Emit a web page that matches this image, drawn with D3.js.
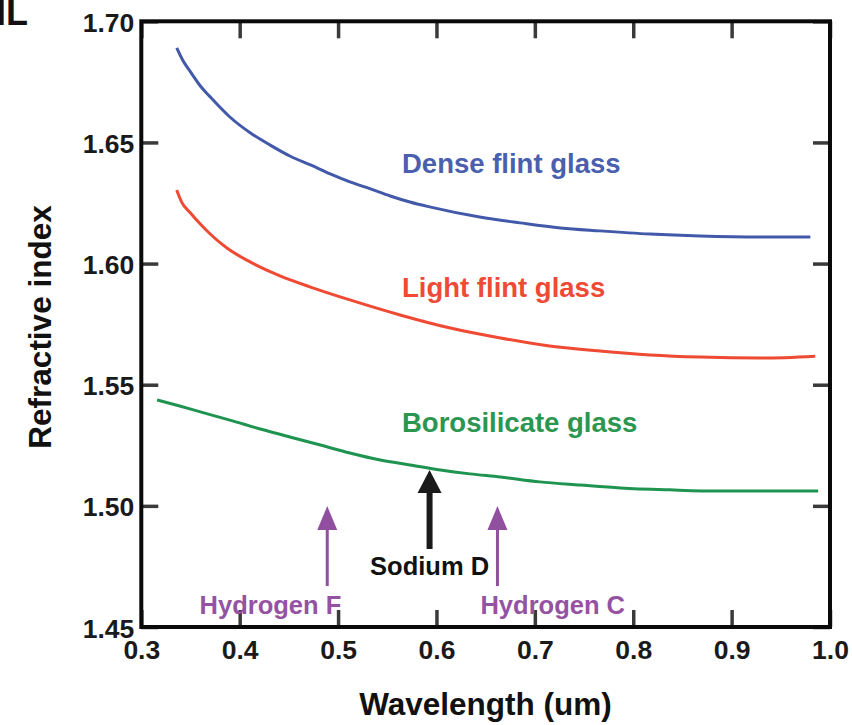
<!DOCTYPE html>
<html>
<head>
<meta charset="utf-8">
<script src="https://cdn.jsdelivr.net/npm/d3@7"></script>
<style>
  html, body { margin: 0; padding: 0; background: #fff; }
  svg { display: block; font-family: "Liberation Sans", Arial, Helvetica, sans-serif; }
</style>
</head>
<body>
<svg id="chart" width="852" height="725"></svg>
<script>
// Axis ticks
const wavelengthTicks = [0.3, 0.4, 0.5, 0.6, 0.7, 0.8, 0.9, 1.0];
const indexTicks = [1.45, 1.50, 1.55, 1.60, 1.65, 1.70];

// Dispersion curves: [wavelength (um), refractive index]
const denseFlint = [
  [0.336, 1.6890], [0.342, 1.6840], [0.350, 1.6791], [0.360, 1.6733], [0.370, 1.6688],
  [0.390, 1.6605], [0.411, 1.6539], [0.431, 1.6489], [0.451, 1.6444], [0.472, 1.6407],
  [0.492, 1.6370], [0.512, 1.6337], [0.533, 1.6308], [0.553, 1.6279], [0.573, 1.6254],
  [0.593, 1.6234], [0.644, 1.6192], [0.685, 1.6168], [0.726, 1.6147], [0.766, 1.6135],
  [0.817, 1.6122], [0.868, 1.6114], [0.929, 1.6110], [0.980, 1.6110]
];
const lightFlint = [
  [0.336, 1.6304], [0.341, 1.6254], [0.350, 1.6209], [0.360, 1.6163], [0.370, 1.6122],
  [0.387, 1.6064], [0.411, 1.6006], [0.441, 1.5949], [0.472, 1.5903], [0.512, 1.5850],
  [0.563, 1.5788], [0.614, 1.5734], [0.665, 1.5693], [0.715, 1.5660], [0.766, 1.5639],
  [0.817, 1.5623], [0.868, 1.5614], [0.929, 1.5610], [0.985, 1.5618]
];
const borosilicate = [
  [0.316, 1.5437], [0.339, 1.5412], [0.360, 1.5388], [0.390, 1.5354], [0.421, 1.5317],
  [0.451, 1.5284], [0.482, 1.5251], [0.512, 1.5218], [0.543, 1.5189], [0.573, 1.5169],
  [0.604, 1.5148], [0.634, 1.5132], [0.665, 1.5119], [0.705, 1.5099], [0.746, 1.5086],
  [0.787, 1.5074], [0.837, 1.5066], [0.888, 1.5061], [0.939, 1.5061], [0.988, 1.5061]
];

const seriesNames = ["Dense flint glass", "Light flint glass", "Borosilicate glass"];

// Spectral reference lines (um)
const lineNames = ["Hydrogen F", "Sodium D", "Hydrogen C"];
const lineWavelengths = [0.489, 0.593, 0.662];

const svg = d3.select("#chart");

const x = d3.scaleLinear().domain([0.3, 1.0]).range([141.3, 830]);
const y = d3.scaleLinear().domain([1.45, 1.70]).range([627, 21.3]);

const tickLen = 17;
const tickColor = "#3a3a3a";

// Bottom axis with labels, ticks pointing inward
const xAxis = svg.append("g")
  .attr("transform", `translate(0,${y.range()[0]})`)
  .call(d3.axisBottom(x).tickValues(wavelengthTicks).tickFormat(d3.format(".1f")).tickSize(-tickLen));
// Left axis with labels
const yAxis = svg.append("g")
  .attr("transform", `translate(${x.range()[0]},0)`)
  .call(d3.axisLeft(y).tickValues(indexTicks).tickFormat(d3.format(".2f")).tickSize(-tickLen));
// Top and right axes: ticks only
const xTop = svg.append("g")
  .attr("transform", `translate(0,${y.range()[1]})`)
  .call(d3.axisTop(x).tickValues(wavelengthTicks).tickFormat("").tickSize(-tickLen));
const yRight = svg.append("g")
  .attr("transform", `translate(${x.range()[1]},0)`)
  .call(d3.axisRight(y).tickValues(indexTicks).tickFormat("").tickSize(-tickLen));

[xAxis, yAxis, xTop, yRight].forEach(g => {
  g.select(".domain").remove();
  g.selectAll(".tick line").attr("stroke", tickColor).attr("stroke-width", 3.5);
});

xAxis.selectAll(".tick text")
  .attr("y", 32).attr("dy", 0)
  .attr("fill", "#1a1a1a")
  .style("font-size", "26.5px").style("font-weight", "bold");
yAxis.selectAll(".tick text")
  .attr("x", -7).attr("dy", "0.38em")
  .attr("fill", "#1a1a1a")
  .style("font-size", "26.5px").style("font-weight", "bold");

// Plot frame
svg.append("rect")
  .attr("x", x.range()[0]).attr("y", y.range()[1])
  .attr("width", x.range()[1] - x.range()[0])
  .attr("height", y.range()[0] - y.range()[1])
  .attr("fill", "none").attr("stroke", "#0a0a0a").attr("stroke-width", 4);

// Curves
const line = d3.line().x(d => x(d[0])).y(d => y(d[1])).curve(d3.curveMonotoneX);
const curveColors = ["#4259aa", "#ef4a33", "#1f9450"];
const labelColors = ["#4a5fae", "#ef4a35", "#2a9650"];
[denseFlint, lightFlint, borosilicate].forEach((data, i) => {
  svg.append("path")
    .datum(data)
    .attr("d", line)
    .attr("fill", "none")
    .attr("stroke", curveColors[i])
    .attr("stroke-width", 3);
});

// Curve labels, set just above each curve
const labelBaselines = [173, 297, 432];
seriesNames.forEach((name, i) => {
  svg.append("text")
    .attr("x", 402)
    .attr("y", labelBaselines[i])
    .attr("fill", labelColors[i])
    .style("font-size", "27.5px").style("font-weight", "bold")
    .text(name);
});

// Spectral line arrows
function arrow(xPos, yTip, yBase, color, shaftW, headW, headH) {
  svg.append("line")
    .attr("x1", xPos).attr("x2", xPos)
    .attr("y1", yTip + headH - 2).attr("y2", yBase)
    .attr("stroke", color).attr("stroke-width", shaftW);
  svg.append("path")
    .attr("d", `M${xPos},${yTip} L${xPos + headW / 2},${yTip + headH} L${xPos - headW / 2},${yTip + headH} Z`)
    .attr("fill", color);
}

const purple = "#914f9f";
lineNames.forEach((name, i) => {
  const lx = x(lineWavelengths[i]);
  if (name === "Sodium D") {
    arrow(lx, y(1.5148), y(1.4822), "#1a1a1a", 6, 24, 23);
    svg.append("text")
      .attr("x", lx).attr("y", 575)
      .attr("text-anchor", "middle")
      .attr("fill", "#111")
      .style("font-size", "25.5px").style("font-weight", "bold")
      .text(name);
  } else {
    arrow(lx, y(1.4999), y(1.4669), purple, 3, 20, 24);
    const isF = name === "Hydrogen F";
    svg.append("text")
      .attr("x", isF ? lx + 14 : lx - 17).attr("y", 614)
      .attr("text-anchor", isF ? "end" : "start")
      .attr("fill", "#9552a3")
      .style("font-size", "25.5px").style("font-weight", "bold")
      .text(name);
  }
});

// Axis titles
svg.append("text")
  .attr("x", 485.5).attr("y", 715)
  .attr("text-anchor", "middle")
  .attr("fill", "#111")
  .style("font-size", "31.5px").style("font-weight", "bold")
  .text("Wavelength (um)");

svg.append("text")
  .attr("transform", "translate(51,327) rotate(-90)")
  .attr("text-anchor", "middle")
  .attr("fill", "#111")
  .style("font-size", "31.5px").style("font-weight", "bold")
  .text("Refractive index");

// Panel letter
svg.append("text")
  .attr("x", -4).attr("y", 25)
  .attr("fill", "#111")
  .style("font-size", "36px").style("font-weight", "bold")
  .text("IL");
</script>
</body>
</html>
